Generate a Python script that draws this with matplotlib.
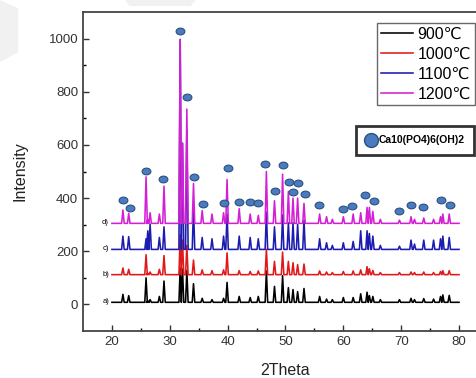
import numpy as np
import matplotlib
matplotlib.use("Agg")
import matplotlib.pyplot as plt
from matplotlib.lines import Line2D
from matplotlib.patches import Polygon
from matplotlib.path import Path
from matplotlib.transforms import Affine2D

plt.rcParams['font.family'] = ['Liberation Sans', 'DejaVu Sans']

# peak positions (2theta) shared by all four patterns
peak_pos = [21.9, 22.9, 25.9, 26.2, 26.6, 28.2, 29.0, 31.8, 32.2, 32.95, 34.1,
            35.6, 37.3, 39.3, 39.9, 42.0, 43.9, 45.3, 46.7, 48.1, 49.5, 50.5,
            51.3, 52.1, 53.2, 55.9, 57.1, 58.1, 60.0, 61.7, 63.0, 64.1, 64.5,
            65.1, 66.4, 69.7, 71.7, 72.3, 73.9, 75.6, 76.8, 77.2, 78.3]

# peak heights above each baseline
h_900 = [30, 25, 92, 5, 10, 22, 80, 130, 125, 120, 70,
         15, 10, 15, 75, 22, 18, 22, 118, 60, 100, 55,
         48, 40, 52, 22, 12, 10, 18, 18, 32, 38, 25,
         22, 10, 10, 15, 10, 14, 12, 22, 28, 26]
h_1000 = [25, 20, 75, 5, 10, 20, 72, 150, 130, 110, 55,
          18, 15, 18, 82, 15, 12, 14, 95, 50, 85, 50,
          45, 38, 40, 14, 10, 8, 12, 14, 18, 30, 22,
          16, 8, 8, 10, 8, 10, 8, 12, 15, 15]
h_1100 = [50, 48, 40, 70, 95, 45, 85, 790, 400, 450, 158,
          45, 40, 50, 133, 50, 45, 40, 140, 85, 130, 100,
          100, 95, 110, 40, 25, 15, 25, 30, 70, 70, 60,
          50, 15, 12, 35, 20, 35, 35, 40, 50, 45]
h_1200 = [50, 38, 175, 15, 40, 35, 140, 690, 300, 430, 150,
          48, 35, 40, 165, 55, 35, 30, 195, 85, 185, 120,
          95, 95, 75, 35, 25, 15, 25, 35, 40, 60, 60,
          45, 15, 12, 25, 15, 20, 15, 25, 35, 35]

baselines = [8, 112, 207, 305]
series_labels = ['900℃', '1000℃', '1100℃', '1200℃']
curve_tags = ['a)', 'b)', 'c)', 'd)']
colors = ['#000000', '#e01a1a', '#1c1cb0', '#d420d4']

# HAP markers
mark_x = [22.0, 23.2, 25.9, 28.9, 31.7, 33.0, 34.25, 35.7, 39.3, 40.0, 41.9,
          43.8, 45.3, 46.5, 48.2, 49.6, 50.6, 51.3, 52.2, 53.3, 55.8, 60.0,
          61.5, 63.8, 65.3, 69.7, 71.7, 73.8, 76.9, 78.4]
mark_y = [392, 362, 503, 471, 1029, 781, 480, 379, 383, 514, 386,
          385, 382, 529, 426, 523, 459, 422, 457, 415, 375, 359,
          372, 412, 390, 350, 374, 366, 391, 374]


def make_trace(base, heights, w=0.22):
    xs = [20.0]
    ys = [base]
    for p, h in sorted(zip(peak_pos, heights)):
        xs += [p - w, p, p + w]
        ys += [base, base + h, base]
    xs.append(80.0)
    ys.append(base)
    return np.array(xs), np.array(ys)


fig = plt.figure(figsize=(4.77, 3.78), dpi=100)
ax = fig.add_axes([0.174, 0.1243, 0.849, 0.8439])

# faint grey shapes in the corner of the scan
fig.patches.append(Polygon([(0, 1), (0.038, 0.978), (0.038, 0.862), (0, 0.836)],
                           closed=True, transform=fig.transFigure,
                           facecolor='#f1f1f1', edgecolor='none'))
fig.patches.append(Polygon([(0.262, 1), (0.41, 1), (0.40, 0.984), (0.272, 0.984)],
                           closed=True, transform=fig.transFigure,
                           facecolor='#f1f1f1', edgecolor='none'))

lines = []
for hs, base, c, lab in zip([h_900, h_1000, h_1100, h_1200], baselines,
                            colors, series_labels):
    x, y = make_trace(base, hs)
    ln, = ax.plot(x, y, color=c, lw=1.15, label=lab)
    lines.append(ln)

for tag, base in zip(curve_tags, baselines):
    ax.text(18.9, base + 2, tag, fontsize=5.5, ha='center', va='center')

ell = Path.unit_circle().transformed(Affine2D().scale(1.3, 1.0))
ax.scatter(mark_x, mark_y, marker=ell, s=40, facecolor='#4b7bbf',
           edgecolor='#2b4f80', linewidths=0.8, zorder=5)

ax.set_xlim(15, 85)
ax.set_ylim(-100, 1100)
ax.set_xticks([20, 30, 40, 50, 60, 70, 80])
ax.set_xticks([25, 35, 45, 55, 65, 75], minor=True)
ax.set_yticks([0, 200, 400, 600, 800, 1000])
ax.set_yticks([100, 300, 500, 700, 900], minor=True)
ax.tick_params(direction='in', length=4, width=1, labelsize=9.5,
               colors='#333333', labelcolor='#333333')
ax.tick_params(which='minor', direction='in', length=2.5, width=1)
for s in ax.spines.values():
    s.set_linewidth(1.3)
    s.set_color('#444444')

ax.set_xlabel('2Theta', fontsize=11.5, color='#222222', labelpad=11)
ax.set_ylabel('Intensity', fontsize=11.5, color='#222222', labelpad=15)

leg1 = ax.legend(handles=lines, loc='upper right', fontsize=11.5,
                 bbox_to_anchor=(475 / 477, 1 - 23 / 378),
                 bbox_transform=fig.transFigure, frameon=True, fancybox=False,
                 handlelength=2.0, handletextpad=0.3, labelspacing=0.3,
                 borderpad=0.25, borderaxespad=0)
leg1.get_frame().set_edgecolor('#444444')
leg1.get_frame().set_linewidth(1.0)
ax.add_artist(leg1)

hap = Line2D([], [], ls='none', marker='o', markersize=10,
             markerfacecolor='#4b7bbf', markeredgecolor='#2b4f80',
             label='Ca10(PO4)6(OH)2')
leg2 = ax.legend(handles=[hap], loc='upper left',
                 bbox_to_anchor=(356 / 477, 1 - 126 / 378),
                 bbox_transform=fig.transFigure, frameon=True, fancybox=False,
                 prop={'size': 7.5, 'weight': 'bold'}, handlelength=1.0,
                 handletextpad=0.3, borderpad=0.9, borderaxespad=0)
leg2.get_frame().set_edgecolor('#000000')
leg2.get_frame().set_linewidth(2.0)

fig.savefig('out.png', dpi=100)
